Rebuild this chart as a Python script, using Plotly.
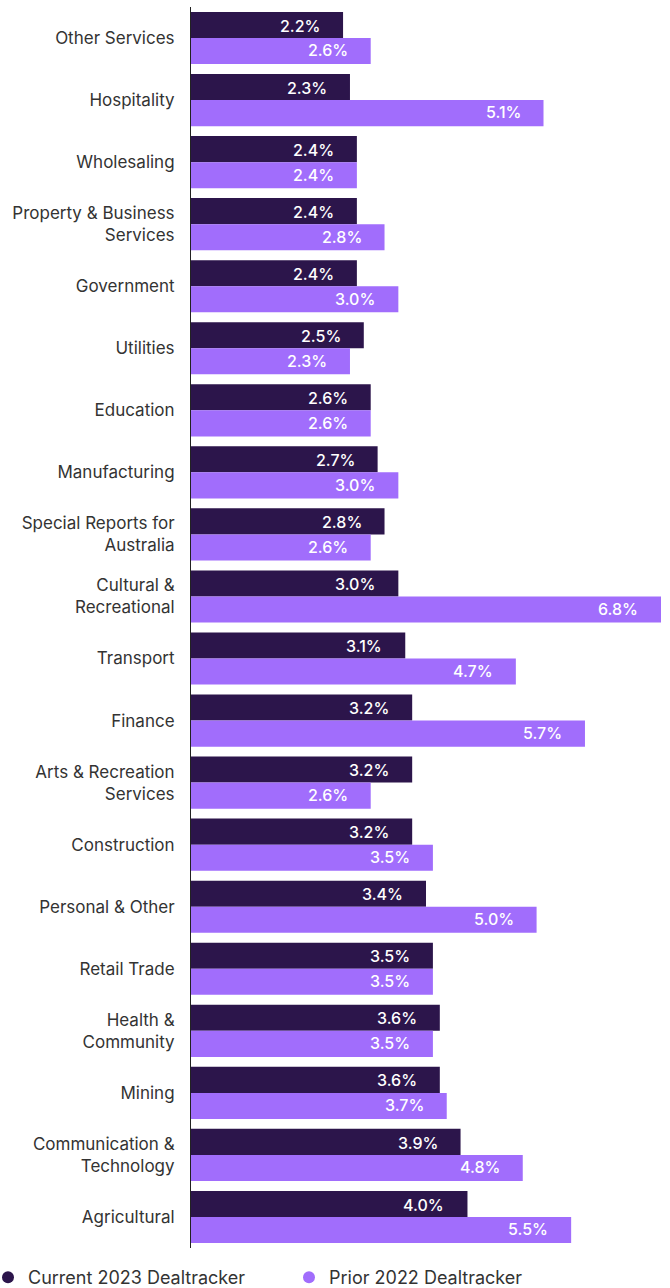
import plotly.graph_objects as go

categories = [
    "Other Services", "Hospitality", "Wholesaling", "Property & Business<br>Services",
    "Government", "Utilities", "Education", "Manufacturing",
    "Special Reports for<br>Australia", "Cultural &<br>Recreational", "Transport", "Finance",
    "Arts & Recreation<br>Services", "Construction", "Personal & Other", "Retail Trade",
    "Health &<br>Community", "Mining", "Communication &<br>Technology", "Agricultural",
]
current_2023 = [2.2, 2.3, 2.4, 2.4, 2.4, 2.5, 2.6, 2.7, 2.8, 3.0,
                3.1, 3.2, 3.2, 3.2, 3.4, 3.5, 3.6, 3.6, 3.9, 4.0]
prior_2022 = [2.6, 5.1, 2.4, 2.8, 3.0, 2.3, 2.6, 3.0, 2.6, 6.8,
              4.7, 5.7, 2.6, 3.5, 5.0, 3.5, 3.5, 3.7, 4.8, 5.5]
series_names = ["Current 2023 Dealtracker", "Prior 2022 Dealtracker"]

DARK = "#2c154b"
LIGHT = "#a16dfc"
FONT = "Inter, Lato, sans-serif"

W, H = 670, 1288
M_L, M_R, M_T, M_B = 191, 9, 7, 40
plot_w = W - M_L - M_R
plot_h = H - M_T - M_B

fig = go.Figure()
for name, vals, color in [(series_names[0], current_2023, DARK),
                          (series_names[1], prior_2022, LIGHT)]:
    fig.add_trace(go.Bar(
        y=categories, x=vals, name=name, orientation="h",
        marker=dict(color=color, line=dict(width=0)),
        showlegend=False, hoverinfo="x+y",
    ))
    # legend entry with round marker
    fig.add_trace(go.Scatter(
        x=[None], y=[None], mode="markers", name=name,
        marker=dict(color=color, size=12, symbol="circle"),
    ))

# value labels inside the bar ends
for i, cat in enumerate(categories):
    for vals, off in [(current_2023, -0.2), (prior_2022, 0.2)]:
        fig.add_annotation(
            x=vals[i], y=i + off, xref="x", yref="y",
            text=f"{vals[i]:.1f}%", showarrow=False,
            xanchor="right", yanchor="middle", xshift=-21,
            font=dict(family=FONT, size=16, color="white", weight=500),
        )

fig.update_layout(
    width=W, height=H,
    margin=dict(l=M_L, r=M_R, t=M_T, b=M_B, autoexpand=False),
    paper_bgcolor="white", plot_bgcolor="white",
    barmode="group", bargap=0.16, bargroupgap=0,
    font=dict(family=FONT, size=17, color="#333333"),
    showlegend=True,
    legend=dict(
        orientation="h", xref="paper", yref="paper",
        x=-M_L / plot_w, y=-11 / plot_h, xanchor="left", yanchor="top",
        font=dict(family=FONT, size=18, color="#333333"),
        entrywidth=268, entrywidthmode="pixels",
        itemwidth=30, indentation=-12,
        bgcolor="rgba(0,0,0,0)",
    ),
)
fig.update_xaxes(range=[0, 6.8], visible=False, fixedrange=True)
fig.update_yaxes(
    autorange="reversed", showline=True, linecolor="#222222", linewidth=1,
    ticks="", ticklabelstandoff=12, showgrid=False,
    tickfont=dict(family=FONT, size=17, color="#333333"),
)

fig.write_html("out.html")
